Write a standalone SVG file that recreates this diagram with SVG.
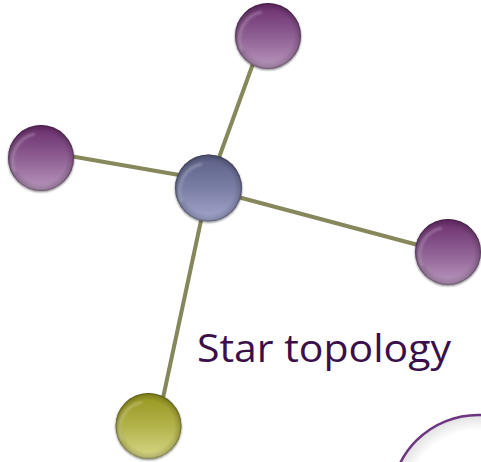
<svg xmlns="http://www.w3.org/2000/svg" width="481" height="462" viewBox="0 0 481 462">
<style>
.link{stroke:#87875c;stroke-width:4;fill:none;stroke-linecap:butt}
.rim{fill:url(#rim)}
.hl{fill:none;stroke:#ffffff;stroke-opacity:0.22;stroke-width:3;filter:url(#soft)}
.label{font-family:"Open Sans","Liberation Sans",sans-serif;font-size:39px;fill:#3a0f4a}
</style>
<defs>
<linearGradient id="purple" x1="0" y1="0" x2="0" y2="1">
<stop offset="0" stop-color="#6a2c6c"/>
<stop offset="0.5" stop-color="#8e5f93"/>
<stop offset="1" stop-color="#b998bd"/>
</linearGradient>
<linearGradient id="slate" x1="0" y1="0" x2="0" y2="1">
<stop offset="0" stop-color="#5b5f85"/>
<stop offset="0.5" stop-color="#7a7ea5"/>
<stop offset="1" stop-color="#a3a7cc"/>
</linearGradient>
<linearGradient id="olive" x1="0" y1="0" x2="0" y2="1">
<stop offset="0" stop-color="#95951e"/>
<stop offset="0.5" stop-color="#b2b24a"/>
<stop offset="1" stop-color="#d8d888"/>
</linearGradient>
<radialGradient id="rim" cx="0.5" cy="0.5" r="0.5">
<stop offset="0.78" stop-color="#000" stop-opacity="0"/>
<stop offset="0.94" stop-color="#000" stop-opacity="0.15"/>
<stop offset="1" stop-color="#000" stop-opacity="0.45"/>
</radialGradient>
<radialGradient id="ringfill" cx="0.5" cy="0.5" r="0.5">
<stop offset="0.82" stop-color="#ffffff"/>
<stop offset="0.97" stop-color="#e6e6e6"/>
<stop offset="1" stop-color="#dcdcdc"/>
</radialGradient>
<filter id="soft" x="-20%" y="-20%" width="140%" height="140%">
<feGaussianBlur stdDeviation="1"/>
</filter>
<filter id="shadow" x="-20%" y="-20%" width="140%" height="140%">
<feGaussianBlur in="SourceAlpha" stdDeviation="1.2"/>
<feOffset dx="0" dy="1" result="b"/>
<feComponentTransfer><feFuncA type="linear" slope="0.5"/></feComponentTransfer>
<feMerge><feMergeNode/><feMergeNode in="SourceGraphic"/></feMerge>
</filter>
</defs>

<g id="connectors">
<line class="link" x1="41" y1="151" x2="208" y2="180"/>
<line class="link" x1="208" y1="188" x2="263" y2="36"/>
<line class="link" x1="208" y1="189" x2="448" y2="253"/>
<line class="link" x1="208" y1="188" x2="157" y2="426"/>
</g>

<g id="node-top" filter="url(#shadow)">
<circle cx="268" cy="36" r="33" fill="url(#purple)"/>
<circle cx="268" cy="36" r="33" class="rim"/>
<path class="hl" d="M242,50 A27,27 0 0 1 262,12"/>
</g>

<g id="node-left" filter="url(#shadow)">
<circle cx="41" cy="158" r="33" fill="url(#purple)"/>
<circle cx="41" cy="158" r="33" class="rim"/>
<path class="hl" d="M15,172 A27,27 0 0 1 35,134"/>
</g>

<g id="node-right" filter="url(#shadow)">
<circle cx="448" cy="252" r="33" fill="url(#purple)"/>
<circle cx="448" cy="252" r="33" class="rim"/>
<path class="hl" d="M422,266 A27,27 0 0 1 442,228"/>
</g>

<g id="node-center" filter="url(#shadow)">
<circle cx="208.5" cy="188" r="33.5" fill="url(#slate)"/>
<circle cx="208.5" cy="188" r="33.5" class="rim"/>
<path class="hl" d="M182,202 A27,27 0 0 1 202,164"/>
</g>

<g id="node-bottom" filter="url(#shadow)">
<circle cx="148.5" cy="426" r="33" fill="url(#olive)"/>
<circle cx="148.5" cy="426" r="33" class="rim"/>
<path class="hl" d="M122,440 A27,27 0 0 1 142,402"/>
</g>

<g id="label">
<text class="label" x="197" y="362" textLength="254" lengthAdjust="spacingAndGlyphs">Star topology</text>
</g>

<g id="ring">
<circle cx="478" cy="502" r="87" fill="url(#ringfill)" stroke="#6e3580" stroke-width="2.5"/>
</g>
</svg>
